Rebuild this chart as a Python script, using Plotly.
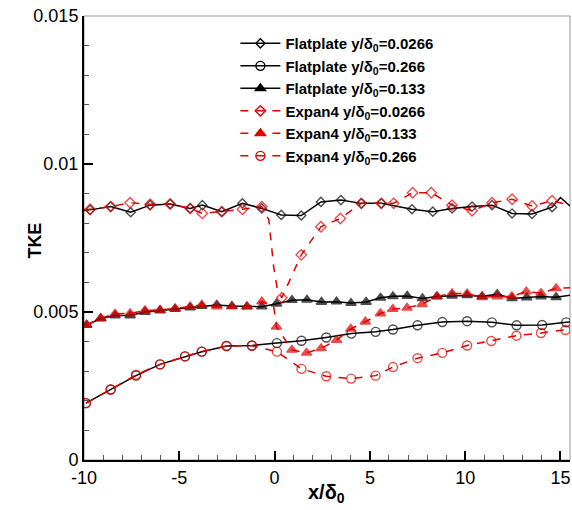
import plotly.graph_objects as go

# ---------------- data ----------------
# Flatplate y/d0 = 0.0266 (black, open diamonds)
fp1_x = [-10.0, -9.68, -8.60, -7.55, -6.53, -5.48, -4.43, -3.79, -2.77, -1.69, -0.67, 0.35, 1.40, 2.43,
         3.48, 4.55, 5.60, 7.21, 8.30, 9.31, 10.36, 11.41, 12.46, 13.51, 14.56, 15.0, 15.5]
fp1_y = [0.00843, 0.00845, 0.00856, 0.00837, 0.00861, 0.00865, 0.00850, 0.00861, 0.00839, 0.00867, 0.00850,
         0.00828, 0.00826, 0.00872, 0.00878, 0.00867, 0.00867, 0.00847, 0.00839, 0.00850, 0.00856, 0.00861,
         0.00833, 0.00831, 0.00854, 0.00887, 0.00858]
fp1_mk = [0, 1, 1, 1, 1, 1, 1, 1, 1, 1, 1, 1, 1, 1, 1, 1, 1, 1, 1, 1, 1, 1, 1, 1, 1, 0, 0]

# Flatplate y/d0 = 0.266 (black, open circles)
fp2_x = [-9.9, -8.6, -7.27, -6.01, -4.70, -3.82, -2.52, -1.19, 0.12, 1.41, 2.71, 4.03, 5.30, 6.21,
         7.50, 8.80, 10.10, 11.40, 12.70, 14.04, 15.30, 15.5]
fp2_y = [0.00192, 0.00238, 0.00285, 0.00323, 0.00350, 0.00366, 0.00385, 0.00387, 0.00395, 0.00403,
         0.00414, 0.00427, 0.00433, 0.00441, 0.00455, 0.00466, 0.00469, 0.00465, 0.00455, 0.00456,
         0.00465, 0.00466]
fp2_mk = [1] * 21 + [0]

# Flatplate y/d0 = 0.133 (black, filled triangles)
fp3_x = [-9.86, -9.12, -8.37, -7.58, -6.80, -6.01, -5.22, -4.43, -3.82, -3.03, -2.24, -1.45, -0.67,
         0.10, 0.91, 1.70, 2.46, 3.25, 4.01, 4.80, 5.56, 6.21, 6.96, 7.76, 8.52, 9.31, 10.10, 10.89,
         11.68, 12.46, 13.23, 13.98, 14.77, 15.5]
fp3_y = [0.00456, 0.00478, 0.00488, 0.00488, 0.00500, 0.00505, 0.00510, 0.00515, 0.00520, 0.00524,
         0.00520, 0.00518, 0.00518, 0.00528, 0.00540, 0.00541, 0.00534, 0.00535, 0.00530, 0.00534,
         0.00548, 0.00553, 0.00554, 0.00546, 0.00552, 0.00555, 0.00556, 0.00553, 0.00560, 0.00546,
         0.00549, 0.00552, 0.00550, 0.00557]
fp3_mk = [1] * 33 + [0]

# Expan4 y/d0 = 0.0266 (red dashed, open diamonds)
ex1_x = [-10.0, -9.68, -8.60, -7.58, -6.53, -5.48, -4.43, -3.79, -2.77, -1.69, -0.67, -0.30, -0.05,
         0.15, 0.38, 1.40, 2.43, 3.45, 4.55, 5.60, 6.25, 7.24, 8.22, 9.31, 10.36, 11.41, 12.46, 13.51,
         14.56, 15.5]
ex1_y = [0.00845, 0.00847, 0.00856, 0.00869, 0.00864, 0.00865, 0.00850, 0.00833, 0.00839, 0.00847,
         0.00856, 0.00811, 0.00653, 0.00575, 0.00548, 0.00693, 0.00788, 0.00816, 0.00867, 0.00867,
         0.00867, 0.00903, 0.00903, 0.00861, 0.00842, 0.00869, 0.00881, 0.00858, 0.00876, 0.00860]
ex1_mk = [0, 1, 1, 1, 1, 1, 1, 1, 1, 1, 1, 0, 0, 0, 1, 1, 1, 1, 1, 1, 1, 1, 1, 1, 1, 1, 1, 1, 1, 0]

# Expan4 y/d0 = 0.133 (red dashed, filled triangles)
ex2_x = [-9.86, -9.12, -8.37, -7.58, -6.80, -6.01, -5.22, -4.43, -3.82, -3.03, -2.24, -1.45, -0.67,
         -0.05, 0.10, 0.91, 1.68, 2.44, 3.25, 4.00, 4.76, 5.55, 6.20, 6.95, 7.74, 8.52, 9.31, 10.10,
         10.89, 11.68, 12.45, 13.21, 13.98, 14.77, 15.5]
ex2_y = [0.00456, 0.00479, 0.00494, 0.00495, 0.00505, 0.00507, 0.00512, 0.00518, 0.00524, 0.00518,
         0.00518, 0.00518, 0.00535, 0.00520, 0.00450, 0.00372, 0.00362, 0.00377, 0.00405, 0.00443,
         0.00467, 0.00495, 0.00510, 0.00514, 0.00526, 0.00553, 0.00563, 0.00562, 0.00550, 0.00552,
         0.00553, 0.00569, 0.00564, 0.00580, 0.00582]
ex2_mk = [1] * 13 + [0] + [1] * 20 + [0]

# Expan4 y/d0 = 0.266 (red dashed, open circles)
ex3_x = [-9.9, -8.6, -7.27, -6.01, -4.70, -3.82, -2.52, -1.19, 0.12, 1.41, 2.71, 4.02, 5.30, 6.21,
         7.50, 8.80, 10.10, 11.37, 12.69, 13.98, 15.26, 15.5]
ex3_y = [0.00192, 0.00238, 0.00288, 0.00323, 0.00350, 0.00366, 0.00385, 0.00386, 0.00366, 0.00308,
         0.00283, 0.00275, 0.00285, 0.00314, 0.00344, 0.00362, 0.00387, 0.00402, 0.00420, 0.00429,
         0.00439, 0.00442]
ex3_mk = [1] * 21 + [0]

x_tickvals = [-10, -5, 0, 5, 10, 15]
x_ticktext = ["-10", "-5", "0", "5", "10", "15"]
y_tickvals = [0, 0.005, 0.01, 0.015]
y_ticktext = ["0", "0.005", "0.01", "0.015"]
x_title = "<b>x/δ<sub>0</sub></b>"
y_title = "<b>TKE</b>"

# ---------------- styles ----------------
BLACK = "#000000"
RED = "#e00000"
FONT = "Liberation Sans, Arial, sans-serif"

series = [
    ("Flatplate y/δ<sub>0</sub>=0.0266", fp1_x, fp1_y, fp1_mk, BLACK, "solid", "diamond-open", 7),
    ("Flatplate y/δ<sub>0</sub>=0.266", fp2_x, fp2_y, fp2_mk, BLACK, "solid", "circle-open", 9),
    ("Flatplate y/δ<sub>0</sub>=0.133", fp3_x, fp3_y, fp3_mk, BLACK, "solid", "triangle-up", 9),
    ("Expan4 y/δ<sub>0</sub>=0.0266", ex1_x, ex1_y, ex1_mk, RED, "8px,8px", "diamond-open", 8),
    ("Expan4 y/δ<sub>0</sub>=0.133", ex2_x, ex2_y, ex2_mk, RED, "8px,8px", "triangle-up", 9),
    ("Expan4 y/δ<sub>0</sub>=0.266", ex3_x, ex3_y, ex3_mk, RED, "8px,8px", "circle-open", 9),
]

fig = go.Figure()
for name, xs, ys, mk, col, dash, sym, size in series:
    fig.add_trace(go.Scatter(
        x=xs, y=ys, mode="lines+markers", showlegend=False, hoverinfo="skip",
        line=dict(color=col, width=1.5, dash=dash),
        marker=dict(symbol=sym, size=[size if m else 0 for m in mk], color=col,
                    line=dict(color=col, width=1.4)),
    ))
for name, xs, ys, mk, col, dash, sym, size in series:
    fig.add_trace(go.Scatter(
        x=[None], y=[None], mode="lines+markers", name=name,
        line=dict(color=col, width=1.5, dash=dash),
        marker=dict(symbol=sym, size=size, color=col, line=dict(color=col, width=1.4)),
    ))

fig.update_layout(
    width=572, height=510,
    margin=dict(l=84, r=2, t=16, b=50, autoexpand=False),
    paper_bgcolor="white", plot_bgcolor="white",
    font=dict(family=FONT, size=18, color="black"),
    showlegend=True,
    legend=dict(x=0.3115, y=0.975, xanchor="left", yanchor="top",
                bgcolor="rgba(0,0,0,0)", borderwidth=0,
                font=dict(family=FONT, size=15, weight="bold"),
                tracegroupgap=0, itemwidth=40),
    xaxis=dict(range=[-10, 15.5], tickvals=x_tickvals, ticktext=x_ticktext,
               ticks="inside", ticklen=9, tickwidth=2, tickcolor="black",
               showline=True, linecolor="black", linewidth=2, showgrid=False, zeroline=False,
               minor=dict(dtick=1, ticks="inside", ticklen=5, tickwidth=1, tickcolor="#555"),
               tickfont=dict(size=18), automargin=False),
    yaxis=dict(range=[0, 0.015], tickvals=y_tickvals, ticktext=y_ticktext,
               ticks="inside", ticklen=9, tickwidth=2, tickcolor="black",
               showline=True, linecolor="black", linewidth=2, showgrid=False, zeroline=False,
               minor=dict(dtick=0.001, ticks="inside", ticklen=5, tickwidth=1, tickcolor="#555"),
               tickfont=dict(size=18), automargin=False),
    annotations=[
        dict(text=y_title, xref="paper", yref="paper", x=-0.1, y=0.495, xanchor="center",
             yanchor="middle", textangle=-90, showarrow=False, font=dict(size=18)),
        dict(text=x_title, xref="paper", yref="paper", x=0.498, y=-0.075, xanchor="center",
             yanchor="middle", showarrow=False, font=dict(size=20)),
    ],
    shapes=[dict(type="rect", xref="paper", yref="paper", x0=0, x1=1, y0=0, y1=1,
                 line=dict(color="#999999", width=1), layer="below")],
)

fig.write_html("out.html", config={"displayModeBar": False},
               post_script="document.body.style.margin='0';document.body.style.overflow='hidden';")
